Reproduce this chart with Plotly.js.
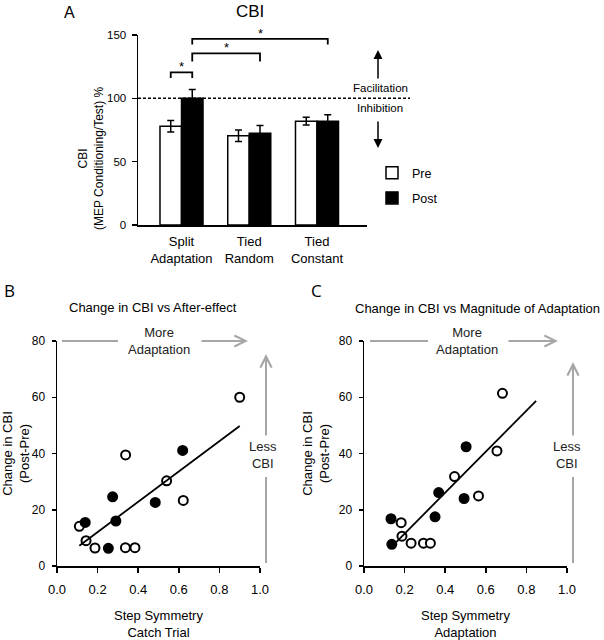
<!DOCTYPE html>
<html><head><meta charset="utf-8">
<script src="https://cdn.plot.ly/plotly-3.0.1.min.js"></script>
<style>html,body{margin:0;padding:0;background:#fff}#chart{width:604px;height:640px}</style>
</head><body><div id="chart"></div><script>
// ---------- Panel A data ----------
const conditions = ['Split<br>Adaptation', 'Tied<br>Random', 'Tied<br>Constant'];
const preCBI  = [78, 70.5, 82];
const preErr  = [4.5, 4.5, 3];
const postCBI = [100, 72.5, 82];
const postErr = [7, 6, 5];
// significance brackets: condition index + series at each end, bracket level
const sigFromCond = [0, 0, 0];
const sigFromSeries = ['Pre', 'Post', 'Post'];
const sigToCond = [0, 1, 2];
const sigToSeries = ['Post', 'Post', 'Post'];
const sigLevel = [120.5, 135.5, 147];
const sigLabel = ['*', '*', '*'];

// ---------- Panel B data (after-effect) ----------
const aeOpenX = [0.90, 0.338, 0.54, 0.622, 0.11, 0.143, 0.187, 0.337, 0.384];
const aeOpenY = [60, 39.5, 30.3, 23.3, 14.1, 9.0, 6.4, 6.5, 6.5];
const aeFillX = [0.619, 0.274, 0.484, 0.139, 0.29, 0.253];
const aeFillY = [41.1, 24.6, 22.6, 15.5, 16.0, 6.3];
const aeFitX = [0.11, 0.90];
const aeFitY = [7.2, 49.8];

// ---------- Panel C data (adaptation magnitude) ----------
const adOpenX = [0.682, 0.655, 0.446, 0.564, 0.183, 0.187, 0.232, 0.293, 0.327];
const adOpenY = [61.4, 40.9, 31.8, 24.9, 15.4, 10.6, 8.1, 8.1, 8.1];
const adFillX = [0.503, 0.368, 0.493, 0.35, 0.133, 0.137];
const adFillY = [42.4, 26.1, 24.0, 17.5, 16.8, 7.7];
const adFitX = [0.16, 0.848];
const adFitY = [8.6, 58.7];

const xTicksB = [0, 0.2, 0.4, 0.6, 0.8, 1.0];
const yTicksB = [0, 20, 40, 60, 80];
const yTicksA = [0, 50, 100, 150];

// ---------- helpers ----------
const W = 604, H = 640;
const px = v => v / W;
const py = v => 1 - v / H;
const FONT = 'Liberation Sans, Arial, sans-serif';
const BARGAP = 0.365;
const half = (1 - BARGAP) / 4;
const barX = (c, s) => c + (s === 'Pre' ? -half : half);
const catIdx = conditions.map((_, i) => i);

const traces = [];
traces.push({
  type: 'bar', name: 'Pre', x: catIdx, y: preCBI, xaxis: 'x', yaxis: 'y',
  legendgroup: 'pre',
  marker: {color: '#ffffff', line: {color: '#000', width: 1.5}},
  error_y: {type: 'data', array: preErr, visible: true, color: '#000', thickness: 1.5, width: 3.5}
});
traces.push({
  type: 'bar', name: 'Post', x: catIdx, y: postCBI, xaxis: 'x', yaxis: 'y',
  legendgroup: 'post',
  marker: {color: '#000000', line: {color: '#000', width: 1.5}},
  error_y: {type: 'data', array: postErr, visible: true, color: '#000', thickness: 1.5, width: 3.5}
});
const annotations = [];
sigLevel.forEach((lv, i) => {
  const x0 = barX(sigFromCond[i], sigFromSeries[i]);
  const x1 = barX(sigToCond[i], sigToSeries[i]);
  const drop = i === 1 ? 6.5 : 4.5;
  traces.push({
    type: 'scatter', mode: 'lines', x: [x0, x0, x1, x1], y: [lv - drop, lv, lv, lv - drop],
    xaxis: 'x', yaxis: 'y', showlegend: false, hoverinfo: 'skip',
    line: {color: '#000', width: 1.8}, cliponaxis: false
  });
  annotations.push({xref: 'x', yref: 'y', x: (x0 + x1) / 2, y: lv, yanchor: 'bottom', yshift: -4,
    text: sigLabel[i], showarrow: false, font: {family: FONT, size: 13, color: '#000'}});
});

function scatterSet(xs, ys, xa, ya, filled) {
  return {type: 'scatter', mode: 'markers', x: xs, y: ys, xaxis: xa, yaxis: ya, showlegend: false,
    cliponaxis: false,
    marker: {symbol: 'circle', size: 9, color: filled ? '#000' : '#fff', line: {color: '#000', width: 2}}};
}
traces.push(scatterSet(aeOpenX, aeOpenY, 'x2', 'y2', false));
traces.push(scatterSet(aeFillX, aeFillY, 'x2', 'y2', true));
traces.push({type: 'scatter', mode: 'lines', x: aeFitX, y: aeFitY, xaxis: 'x2', yaxis: 'y2',
  showlegend: false, line: {color: '#000', width: 1.8}});
traces.push(scatterSet(adOpenX, adOpenY, 'x3', 'y3', false));
traces.push(scatterSet(adFillX, adFillY, 'x3', 'y3', true));
traces.push({type: 'scatter', mode: 'lines', x: adFitX, y: adFitY, xaxis: 'x3', yaxis: 'y3',
  showlegend: false, line: {color: '#000', width: 1.8}});

function txt(x, y, t, size, extra) {
  return Object.assign({xref: 'paper', yref: 'paper', x: px(x), y: py(y), text: t, showarrow: false,
    xanchor: 'center', yanchor: 'middle', font: {family: FONT, size: size, color: '#000'}}, extra || {});
}
// labels and titles
annotations.push(txt(69, 13, 'A', 16));
annotations.push(txt(250, 11, 'CBI', 17));
annotations.push(txt(9, 290, 'B', 17, {font: {family: 'Open Sans, sans-serif', size: 17, color: '#000'}}));
annotations.push(txt(316, 290, 'C', 17, {font: {family: 'Open Sans, sans-serif', size: 17, color: '#000'}}));
annotations.push(txt(153, 307, 'Change in CBI vs After-effect', 13));
annotations.push(txt(477, 308, 'Change in CBI vs Magnitude of Adaptation', 13));
annotations.push(txt(91, 158, 'CBI<br>(MEP Conditioning/Test) %', 12, {textangle: -90}));
annotations.push(txt(381, 88, 'Facilitation', 11.5));
annotations.push(txt(380, 108, 'Inhibition', 11.5));
annotations.push(txt(159, 341, 'More<br>Adaptation', 13, {font: {family: FONT, size: 13, color: '#222'}}));
annotations.push(txt(467, 341, 'More<br>Adaptation', 13, {font: {family: FONT, size: 13, color: '#222'}}));
annotations.push(txt(263, 455, 'Less<br>CBI', 13, {font: {family: FONT, size: 13, color: '#222'}}));
annotations.push(txt(567, 455, 'Less<br>CBI', 13, {font: {family: FONT, size: 13, color: '#222'}}));

function arrow(hx, hy, tx, ty, color, head, w, size) {
  return {xref: 'paper', yref: 'paper', x: px(hx), y: py(hy), ax: tx - hx, ay: ty - hy, text: '',
    showarrow: true, arrowhead: head, arrowsize: size, arrowwidth: w, arrowcolor: color, standoff: 0, startstandoff: 0};
}
annotations.push(arrow(378, 50, 378, 80, '#000', 2, 1.5, 1.2));
annotations.push(arrow(378, 148, 378, 120, '#000', 2, 1.5, 1.2));
const GRAY = '#a6a6a6';
annotations.push(arrow(248, 341, 200, 341, GRAY, 5, 2, 1.1));
annotations.push(arrow(558, 341, 507, 341, GRAY, 5, 2, 1.1));
annotations.push(arrow(266, 354, 266, 437, GRAY, 5, 2, 1.1));
annotations.push(arrow(573, 362, 573, 437, GRAY, 5, 2, 1.1));

function seg(x0, y0, x1, y1, color, w, dash) {
  return {type: 'line', xref: 'paper', yref: 'paper', x0: px(x0), y0: py(y0), x1: px(x1), y1: py(y1),
    line: {color: color, width: w, dash: dash || 'solid'}};
}
const shapes = [
  {type: 'line', xref: 'paper', yref: 'y', x0: px(138), x1: px(410), y0: 100, y1: 100,
   line: {color: '#000', width: 1.5, dash: '3px,2px'}, layer: 'above'},
  seg(62, 341, 118, 341, GRAY, 2), seg(266, 563, 266, 477, GRAY, 2),
  seg(370, 341, 428, 341, GRAY, 2), seg(573, 563, 573, 477, GRAY, 2)
];

const axBase = {showline: true, linecolor: '#000', linewidth: 1.5, showgrid: false, zeroline: false,
  ticks: 'outside', tickcolor: '#000', tickwidth: 1.5, fixedrange: true,
  tickfont: {family: FONT, size: 12, color: '#000'}};

const layout = {
  width: W, height: H, margin: {l: 0, r: 0, t: 0, b: 0}, paper_bgcolor: '#fff', plot_bgcolor: '#fff',
  font: {family: FONT, color: '#000'},
  barmode: 'group', bargap: BARGAP, bargroupgap: 0,
  showlegend: true,
  legend: {x: px(372), y: py(158), xanchor: 'left', yanchor: 'top', traceorder: 'grouped', tracegroupgap: 6,
    font: {family: FONT, size: 12.5, color: '#000'}, bgcolor: 'rgba(0,0,0,0)', itemwidth: 30},
  xaxis: Object.assign({}, axBase, {domain: [px(138), px(367)], range: [-0.642, 2.738], anchor: 'y',
    tickvals: catIdx, ticktext: conditions, ticks: '', tickfont: {family: FONT, size: 13, color: '#000'},
    ticklabelstandoff: 4}),
  yaxis: Object.assign({}, axBase, {domain: [py(225), py(35)], range: [0, 150], anchor: 'x',
    tickvals: yTicksA, ticklen: 5, ticklabelstandoff: 3, tickfont: {family: FONT, size: 11.5, color: '#000'}}),
  xaxis2: Object.assign({}, axBase, {domain: [px(57), px(260)], range: [0, 1], anchor: 'y2',
    tickvals: xTicksB, tickformat: '.1f', ticklen: 5, ticklabelstandoff: 6,
    tickfont: {family: FONT, size: 13, color: '#000'},
    title: {text: 'Step Symmetry<br>Catch Trial', font: {family: FONT, size: 13, color: '#000'}, standoff: 19}}),
  yaxis2: Object.assign({}, axBase, {domain: [py(566), py(341)], range: [0, 80], anchor: 'x2',
    tickvals: yTicksB, ticklen: 4, ticklabelstandoff: 4,
    title: {text: 'Change in CBI<br>(Post-Pre)', font: {family: FONT, size: 13, color: '#000'}, standoff: 6}}),
  xaxis3: Object.assign({}, axBase, {domain: [px(364), px(567)], range: [0, 1], anchor: 'y3',
    tickvals: xTicksB, tickformat: '.1f', ticklen: 5, ticklabelstandoff: 6,
    tickfont: {family: FONT, size: 13, color: '#000'},
    title: {text: 'Step Symmetry<br>Adaptation', font: {family: FONT, size: 13, color: '#000'}, standoff: 19}}),
  yaxis3: Object.assign({}, axBase, {domain: [py(566), py(341)], range: [0, 80], anchor: 'x3',
    tickvals: yTicksB, ticklen: 4, ticklabelstandoff: 4,
    title: {text: 'Change in CBI<br>(Post-Pre)', font: {family: FONT, size: 13, color: '#000'}, standoff: 6}}),
  annotations: annotations,
  shapes: shapes
};
Plotly.newPlot('chart', traces, layout, {displayModeBar: false, staticPlot: true});
</script></body></html>
